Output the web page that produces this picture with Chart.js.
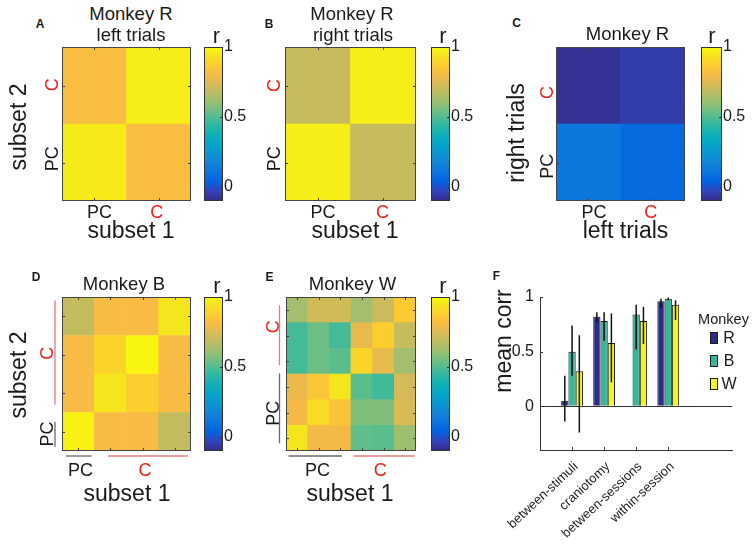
<!DOCTYPE html>
<html>
<head>
<meta charset="utf-8">
<script src="https://cdn.jsdelivr.net/npm/chart.js@4.4.0/dist/chart.umd.min.js"></script>
<style>
  body { margin: 0; background: #fff; }
  #fig { position: relative; width: 752px; height: 544px; overflow: hidden;
         font-family: "Liberation Sans", Arial, Helvetica, sans-serif; color: #1a1a1a; }
  #fig canvas { position: absolute; }
  .t { position: absolute; white-space: nowrap; line-height: 1; transform: translate(-50%, -50%); }
  .sq { position: absolute; width: 8px; height: 12px; border: 1px solid #1a1a1a; box-sizing: border-box; }
</style>
</head>
<body>
<div id="fig"></div>
<script>
// ---- data ----
const CLIM = [-0.1, 1];
const cbTicks = [0, 0.5, 1];
const groupLabels = ['PC', 'C'];

// heat maps, rows top -> bottom, columns left -> right
const matA = [[0.82, 0.97], [0.96, 0.82]];
const matB = [[0.70, 0.97], [0.97, 0.70]];
const matC = [[-0.08, -0.05], [0.12, 0.07]];
const matD = [
  [0.69, 0.81, 0.81, 0.95],
  [0.81, 0.90, 0.99, 0.81],
  [0.81, 0.95, 0.88, 0.81],
  [0.98, 0.81, 0.81, 0.69]
];
const matE = [
  [0.63, 0.72, 0.72, 0.63, 0.71, 0.86],
  [0.48, 0.54, 0.48, 0.77, 0.88, 0.70],
  [0.48, 0.54, 0.51, 0.90, 0.77, 0.63],
  [0.78, 0.85, 0.95, 0.51, 0.47, 0.73],
  [0.80, 0.92, 0.84, 0.57, 0.57, 0.74],
  [0.95, 0.80, 0.80, 0.52, 0.51, 0.62]
];

// where the PC / C labels sit (in cell units)
const xPosA = [0.58, 1.47], yPosA = [0.55, 1.51];
const xPosB = [0.58, 1.49], yPosB = [0.55, 1.50];
const xPosC = [0.59, 1.47], yPosC = [0.45, 1.41];
const xPosD = [0.57, 2.57], yPosD = [0.44, 2.54];
const xPosE = [1.45, 4.35], yPosE = [1.47, 4.84];

// group brackets [from, to, group]
const bracketsDx = [[0.12, 0.92, 'PC'], [1.43, 3.9, 'C']];
const bracketsDy = [[0.11, 0.76, 'PC'], [1.2, 3.91, 'C']];
const bracketsEx = [[0.12, 2.58, 'PC'], [3.12, 5.94, 'C']];
const bracketsEy = [[0.3, 3.02, 'PC'], [3.34, 5.68, 'C']];

// panel F
const categories = ['between-stimuli', 'craniotomy', 'between-sessions', 'within-session'];
const monkeys = ['R', 'B', 'W'];
const meanR = [0.05, 0.82, null, 0.96];
const meanB = [0.50, 0.78, 0.84, 0.985];
const meanW = [0.32, 0.58, 0.78, 0.93];
const lowR = [-0.14, 0.77, null, 0.90];
const highR = [0.28, 0.86, null, 0.985];
const lowB = [0.28, 0.60, 0.52, 0.97];
const highB = [0.74, 0.86, 0.93, 0.995];
const lowW = [-0.24, 0.22, 0.57, 0.79];
const highW = [0.65, 0.85, 0.91, 0.97];
const fTicks = [0, 0.5, 1];
const fRange = [-0.4, 1];

// ---- colours ----
const PARULA = [
  [0.2081, 0.1663, 0.5292], [0.1959, 0.2645, 0.7279], [0.0117, 0.3875, 0.8820],
  [0.0498, 0.4586, 0.8641], [0.0793, 0.5200, 0.8312], [0.0343, 0.5966, 0.8199],
  [0.0228, 0.6535, 0.7768], [0.0843, 0.6928, 0.7062], [0.2178, 0.7250, 0.6193],
  [0.3953, 0.7459, 0.5244], [0.5709, 0.7485, 0.4494], [0.7184, 0.7411, 0.3905],
  [0.8507, 0.7299, 0.3360], [0.9739, 0.7314, 0.2666], [0.9880, 0.8066, 0.1794],
  [0.9589, 0.8949, 0.1132], [0.9763, 0.9831, 0.0538]
];
const RED = '#e8231c';
const BRACKET = { PC: '#6a6a6a', C: '#e47b7b' };
const MONKEY_COLORS = ['#2e2a87', '#35b79b', '#f6f41c'];
const FONT = '"Liberation Sans", Arial, Helvetica, sans-serif';

function stopPos(i) { return i < 16 ? i * 4 / 63 : 1; }

function parula(f) {
  f = Math.min(1, Math.max(0, f));
  const t = f * 63;
  const i = Math.min(Math.floor(t / 4), 15);
  const a = i * 4, b = i === 15 ? 63 : a + 4;
  const u = (t - a) / (b - a);
  const c0 = PARULA[i], c1 = PARULA[i + 1];
  const c = c0.map((v, k) => Math.round(255 * (v + (c1[k] - v) * u)));
  return 'rgb(' + c.join(',') + ')';
}

function cellColor(v) { return parula((v - CLIM[0]) / (CLIM[1] - CLIM[0])); }

Chart.defaults.font.family = FONT;
Chart.defaults.color = '#1a1a1a';

// ---- plugins ----
const framePlugin = {
  id: 'frame',
  afterDatasetsDraw(chart, args, o) {
    const { ctx, chartArea: a } = chart;
    const xs = chart.scales.x, ys = chart.scales.y;
    const sides = o.sides || [];
    const len = 3;
    ctx.save();
    ctx.lineWidth = 1;
    ctx.strokeStyle = o.color || '#333';
    ctx.beginPath();
    (o.xMarks || []).forEach(v => {
      const p = Math.round(xs.getPixelForValue(v)) + 0.5;
      if (sides.includes('bottom')) { ctx.moveTo(p, a.bottom); ctx.lineTo(p, a.bottom - len); }
      if (sides.includes('top')) { ctx.moveTo(p, a.top); ctx.lineTo(p, a.top + len); }
    });
    (o.yMarks || []).forEach(v => {
      const p = Math.round(ys.getPixelForValue(v)) + 0.5;
      if (sides.includes('left')) { ctx.moveTo(a.left, p); ctx.lineTo(a.left + len, p); }
      if (sides.includes('right')) { ctx.moveTo(a.right, p); ctx.lineTo(a.right - len, p); }
    });
    ctx.stroke();
    if (o.box) ctx.strokeRect(a.left + 0.5, a.top + 0.5, a.width - 1, a.height - 1);

    ctx.lineWidth = 1.3;
    (o.xBrackets || []).forEach(([from, to, g]) => {
      const y = a.bottom + o.gapX;
      ctx.strokeStyle = BRACKET[g];
      ctx.beginPath();
      ctx.moveTo(xs.getPixelForValue(from), y);
      ctx.lineTo(xs.getPixelForValue(to), y);
      ctx.stroke();
    });
    (o.yBrackets || []).forEach(([from, to, g]) => {
      const x = a.left - o.gapY;
      ctx.strokeStyle = BRACKET[g];
      ctx.beginPath();
      ctx.moveTo(x, ys.getPixelForValue(from));
      ctx.lineTo(x, ys.getPixelForValue(to));
      ctx.stroke();
    });
    ctx.restore();
  }
};

const errorBarPlugin = {
  id: 'errorBars',
  afterDatasetsDraw(chart) {
    const { ctx } = chart;
    const ys = chart.scales.y;
    ctx.save();
    ctx.strokeStyle = '#111';
    ctx.lineWidth = 1.5;
    chart.data.datasets.forEach((ds, i) => {
      chart.getDatasetMeta(i).data.forEach((bar, j) => {
        const lo = ds.errLow[j], hi = ds.errHigh[j];
        if (lo == null || hi == null) return;
        ctx.beginPath();
        ctx.moveTo(bar.x, ys.getPixelForValue(lo));
        ctx.lineTo(bar.x, ys.getPixelForValue(hi));
        ctx.stroke();
      });
    });
    ctx.restore();
  }
};

// ---- helpers ----
const fig = document.getElementById('fig');

function addCanvas(left, top, w, h) {
  const c = document.createElement('canvas');
  c.width = w; c.height = h;
  c.style.left = left + 'px'; c.style.top = top + 'px';
  c.style.width = w + 'px'; c.style.height = h + 'px';
  fig.appendChild(c);
  return c;
}

function text(str, x, y, size, opt) {
  opt = opt || {};
  const d = document.createElement('div');
  d.className = 't';
  d.textContent = str;
  d.style.left = x + 'px';
  d.style.top = y + 'px';
  d.style.fontSize = size + 'px';
  if (opt.rot) d.style.transform = 'translate(-50%, -50%) rotate(-90deg)';
  if (opt.bold) d.style.fontWeight = 'bold';
  if (opt.color) d.style.color = opt.color;
  fig.appendChild(d);
}

function range(n) { return Array.from({ length: n }, (_, i) => i); }

const tickColor = ctx => (ctx.tick && ctx.tick.label === 'C') ? RED : '#1a1a1a';

function heatmap(box, mat, xPos, yPos, xPad, yPad, extra) {
  extra = extra || {};
  const rows = mat.length, cols = mat[0].length;
  const padL = 48, padT = 16, padR = 6, padB = 36;
  const cv = addCanvas(box.left - padL, box.top - padT, box.w + padL + padR, box.h + padT + padB);
  // stacked from the bottom row upwards
  const datasets = mat.slice().reverse().map(row => ({
    data: row.map((v, c) => ({ x: c + 0.5, y: 1 })),
    backgroundColor: row.map(cellColor),
    borderWidth: 0,
    barThickness: 'flex',
    categoryPercentage: 1,
    barPercentage: 1
  }));
  new Chart(cv, {
    type: 'bar',
    data: { datasets },
    options: {
      responsive: false, animation: false, devicePixelRatio: 1,
      events: [],
      layout: { padding: { left: 0, top: padT, right: padR, bottom: 0 } },
      plugins: {
        legend: { display: false }, tooltip: { enabled: false },
        frame: {
          box: true, color: '#444',
          sides: ['left', 'right', 'top', 'bottom'],
          xMarks: range(cols).map(c => c + 0.5),
          yMarks: range(rows).map(r => r + 0.5),
          xBrackets: extra.xBrackets, yBrackets: extra.yBrackets,
          gapX: extra.gapX, gapY: extra.gapY
        }
      },
      scales: {
        x: {
          type: 'linear', min: 0, max: cols, offset: false, stacked: true,
          afterFit: s => { s.height = padB; },
          afterBuildTicks: s => { s.ticks = xPos.map(v => ({ value: v })); },
          grid: { display: false, drawTicks: false, offset: false }, border: { display: false },
          ticks: {
            callback: (v, i) => groupLabels[i], color: tickColor, autoSkip: false,
            minRotation: 0, maxRotation: 0, padding: xPad, font: { size: 18 }
          }
        },
        y: {
          type: 'linear', min: 0, max: rows, stacked: true,
          afterFit: s => { s.width = padL; },
          afterBuildTicks: s => { s.ticks = yPos.map(v => ({ value: v })); },
          grid: { display: false, drawTicks: false }, border: { display: false },
          ticks: {
            callback: (v, i) => groupLabels[i], color: tickColor, autoSkip: false,
            minRotation: 90, maxRotation: 90, crossAlign: 'center', padding: yPad, font: { size: 18 }
          }
        }
      }
    },
    plugins: [framePlugin]
  });
}

function colorbar(box) {
  const padL = 2, padT = 14, padB = 14, axisW = 32;
  const cv = addCanvas(box.left - padL, box.top - padT, box.w + padL + axisW, box.h + padT + padB);
  new Chart(cv, {
    type: 'bar',
    data: {
      labels: [''],
      datasets: [{
        data: [CLIM],
        backgroundColor: ctx => {
          const a = ctx.chart.chartArea;
          if (!a) return '#888';
          const g = ctx.chart.ctx.createLinearGradient(0, a.bottom, 0, a.top);
          PARULA.forEach((c, i) => g.addColorStop(stopPos(i),
            'rgb(' + c.map(v => Math.round(v * 255)).join(',') + ')'));
          return g;
        },
        borderWidth: 0, barPercentage: 1, categoryPercentage: 1
      }]
    },
    options: {
      responsive: false, animation: false, devicePixelRatio: 1,
      events: [],
      layout: { padding: { left: padL, top: padT, right: 0, bottom: padB } },
      plugins: {
        legend: { display: false }, tooltip: { enabled: false },
        frame: { box: true, color: '#333', sides: ['right'], yMarks: cbTicks }
      },
      scales: {
        x: { display: false },
        y: {
          position: 'right', min: CLIM[0], max: CLIM[1],
          afterFit: s => { s.width = axisW; },
          afterBuildTicks: s => { s.ticks = cbTicks.map(v => ({ value: v })); },
          grid: { display: false, drawTicks: false }, border: { display: false },
          ticks: { callback: v => String(v), padding: 1, font: { size: 16 } }
        }
      }
    },
    plugins: [framePlugin]
  });
}

// ---- panels A-E ----
heatmap({ left: 62, top: 47, w: 129, h: 154 }, matA, xPosA, yPosA, 1.5, -3.5);
heatmap({ left: 285, top: 47, w: 131, h: 154 }, matB, xPosB, yPosB, 1.5, -3);
heatmap({ left: 556, top: 47, w: 129, h: 154 }, matC, xPosC, yPosC, 1.5, -4.5);
heatmap({ left: 62, top: 297, w: 129, h: 154 }, matD, xPosD, yPosD, 9.7, 1.5,
  { xBrackets: bracketsDx, yBrackets: bracketsDy, gapX: 5, gapY: 7 });
heatmap({ left: 286, top: 297, w: 130, h: 154 }, matE, xPosE, yPosE, 9.7, -0.5,
  { xBrackets: bracketsEx, yBrackets: bracketsEy, gapX: 5, gapY: 6.5 });

colorbar({ left: 204, top: 47, w: 19, h: 154 });
colorbar({ left: 431, top: 47, w: 19, h: 154 });
colorbar({ left: 701, top: 47, w: 21, h: 154 });
colorbar({ left: 204, top: 297, w: 19, h: 154 });
colorbar({ left: 431, top: 297, w: 19, h: 154 });

// ---- panel F ----
const fLabels = [''].concat(categories, ['', '']);
const pad = arr => [null].concat(arr, [null, null]);
const fMeans = [meanR, meanB, meanW], fLows = [lowR, lowB, lowW], fHighs = [highR, highB, highW];

new Chart(addCanvas(490, 280, 262, 264), {
  type: 'bar',
  data: {
    labels: fLabels,
    datasets: monkeys.map((m, i) => ({
      label: m,
      data: pad(fMeans[i]),
      errLow: pad(fLows[i]),
      errHigh: pad(fHighs[i]),
      backgroundColor: MONKEY_COLORS[i],
      borderColor: '#1a1a1a',
      borderWidth: 1,
      categoryPercentage: 0.68,
      barPercentage: 1
    }))
  },
  options: {
    responsive: false, animation: false, devicePixelRatio: 1,
    events: [],
    layout: { padding: { left: 0, top: 17, right: 6, bottom: 0 } },
    plugins: {
      legend: { display: false }, tooltip: { enabled: false },
      frame: { color: '#333', sides: ['left', 'bottom'], xMarks: [1, 2, 3, 4], yMarks: fTicks }
    },
    scales: {
      x: {
        type: 'category', offset: false,
        afterFit: s => { s.height = 94; },
        grid: { display: false, drawTicks: false, offset: false },
        border: { display: true, color: '#333', width: 1 },
        ticks: {
          autoSkip: false, minRotation: 43, maxRotation: 43, padding: 9, labelOffset: 4,
          font: { size: 13 }, color: '#222'
        }
      },
      y: {
        min: fRange[0], max: fRange[1],
        afterFit: s => { s.width = 50; },
        afterBuildTicks: s => { s.ticks = fTicks.map(v => ({ value: v })); },
        grid: {
          drawTicks: false,
          color: ctx => (ctx.tick && ctx.tick.value === 0) ? '#333' : 'rgba(0,0,0,0)',
          lineWidth: 1
        },
        border: { display: true, color: '#333', width: 1 },
        ticks: { callback: v => String(v), padding: 6, font: { size: 16 } }
      }
    }
  },
  plugins: [framePlugin, errorBarPlugin]
});

// ---- text ----
text('A', 40, 24, 12, { bold: true });
text('B', 269, 24, 12, { bold: true });
text('C', 516.5, 23, 12, { bold: true });
text('D', 36, 277, 12, { bold: true });
text('E', 269.5, 277, 12, { bold: true });
text('F', 496.5, 275.5, 12, { bold: true });

text('Monkey R', 131, 13.5, 18.5);
text('left trials', 131, 35, 18.5);
text('Monkey R', 352, 13.5, 18.5);
text('right trials', 353, 35, 18.5);
text('Monkey R', 627.5, 34, 18.5);
text('Monkey B', 124, 284, 18.5);
text('Monkey W', 352.5, 284, 18.5);

[[216.5, 35.5], [443, 35.5], [712, 35.5], [217, 285.5], [443, 285.5]].forEach(p => text('r', p[0], p[1], 22));

text('subset 2', 18.3, 127, 23, { rot: true });
text('subset 1', 131, 230, 23);
text('subset 1', 355, 230, 23);
text('right trials', 515.5, 132.5, 23, { rot: true });
text('left trials', 625.5, 230, 23);
text('subset 2', 18.3, 375, 23, { rot: true });
text('subset 1', 127, 493, 23);
text('subset 1', 350, 493, 23);
text('mean corr', 503, 341, 23, { rot: true });

// legend of F
text('Monkey', 723.5, 319, 14.5);
monkeys.forEach((m, i) => {
  const sq = document.createElement('div');
  sq.className = 'sq';
  sq.style.left = '710px';
  sq.style.top = (331.5 + i * 23) + 'px';
  sq.style.background = MONKEY_COLORS[i];
  fig.appendChild(sq);
  text(m, 729, 337.5 + i * 23, 16);
});
</script>
</body>
</html>
